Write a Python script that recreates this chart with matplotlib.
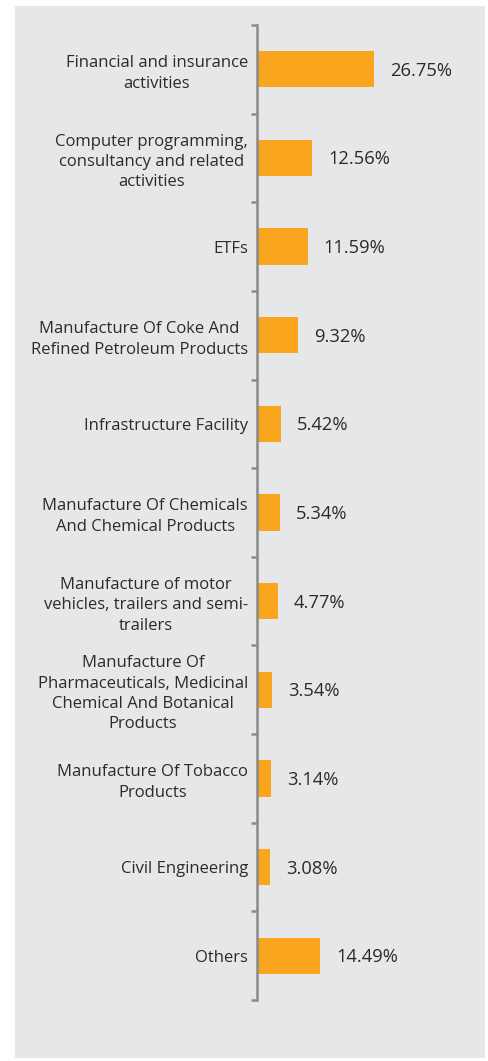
import matplotlib
matplotlib.use("Agg")
import matplotlib.pyplot as plt
from matplotlib.patches import Rectangle
from matplotlib.ticker import FixedLocator

categories = [
    "Financial and insurance\nactivities",
    "Computer programming,\nconsultancy and related\nactivities",
    "ETFs",
    "Manufacture Of Coke And\nRefined Petroleum Products",
    "Infrastructure Facility",
    "Manufacture Of Chemicals\nAnd Chemical Products",
    "Manufacture of motor\nvehicles, trailers and semi-\ntrailers",
    "Manufacture Of\nPharmaceuticals, Medicinal\nChemical And Botanical\nProducts",
    "Manufacture Of Tobacco\nProducts",
    "Civil Engineering",
    "Others",
]
values = [26.75, 12.56, 11.59, 9.32, 5.42, 5.34, 4.77, 3.54, 3.14, 3.08, 14.49]
value_labels = ["26.75%", "12.56%", "11.59%", "9.32%", "5.42%", "5.34%",
                "4.77%", "3.54%", "3.14%", "3.08%", "14.49%"]

W, H = 488, 1061
plt.rcParams['font.family'] = ['Open Sans', 'DejaVu Sans']
fig = plt.figure(figsize=(W / 100, H / 100), dpi=100, facecolor="white")

panel = Rectangle((15 / W, 1 - 1058 / H), (485 - 15) / W, (1058 - 6) / H,
                  transform=fig.transFigure, facecolor="#e6e7e8", edgecolor="none", zorder=-10)
fig.patches.append(panel)

ax_left, ax_right = 257 / W, 485 / W
ax_bottom, ax_top = 1 - 1000 / H, 1 - 25 / H
ax = fig.add_axes([ax_left, ax_bottom, ax_right - ax_left, ax_top - ax_bottom])
ax.patch.set_visible(False)

n = len(categories)
pos = list(range(n))
bar_color = "#f9a61e"
ax.barh(pos, values, height=0.41, color=bar_color, left=0, zorder=2)

px_per_unit = 4.374
ax.set_xlim(0, (485 - 257) / px_per_unit)
ax.set_ylim(n - 0.5, -0.5)

for s in ["top", "right", "bottom"]:
    ax.spines[s].set_visible(False)
ax.spines["left"].set_color("#8a8a8a")
ax.spines["left"].set_linewidth(1.8)
ax.set_xticks([])

ax.set_yticks(pos)
ax.set_yticklabels(categories, fontsize=12.0, color="#2b2b2b", linespacing=1.36)
for t in ax.get_yticklabels():
    t.set_multialignment("center")
ax.tick_params(axis="y", which="major", length=0, pad=6.5)
ax.yaxis.set_minor_locator(FixedLocator([i - 0.5 for i in range(n + 1)]))
ax.tick_params(axis="y", which="minor", length=4.5, width=1.8, color="#8a8a8a", direction="out")

for p, v, lab in zip(pos, values, value_labels):
    ax.annotate(lab, xy=(v, p), xytext=(16, -1.5), textcoords="offset pixels",
                ha="left", va="center", fontsize=13.2, color="#2b2b2b")

fig.savefig("out.png", dpi=100, facecolor="white")
